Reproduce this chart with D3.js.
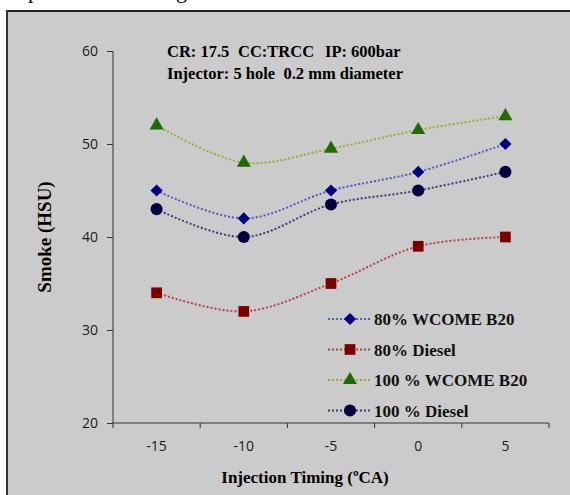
<!DOCTYPE html>
<html><head><meta charset="utf-8">
<script src="https://cdn.jsdelivr.net/npm/d3@7"></script>
<style>body{margin:0;background:#fff}svg{display:block}</style>
</head><body>
<svg id="c" width="570" height="495"></svg>
<script>
const categories = ["-15", "-10", "-5", "0", "5"];
const seriesNames = ["80% WCOME B20", "80% Diesel", "100 % WCOME B20", "100 % Diesel"];
const wcome80 = [45, 42, 45, 47, 50];
const diesel80 = [34, 32, 35, 39, 40];
const wcome100 = [52, 48, 49.5, 51.5, 53];
const diesel100 = [43, 40, 43.5, 45, 47];
const yTicks = [20, 30, 40, 50, 60];
const annotation1 = ["CR: 17.5", "CC:TRCC", "IP: 600bar"];
const annotation2 = "Injector: 5 hole  0.2 mm diameter";
const xTitle = "Injection Timing (ºCA)";
const yTitle = "Smoke (HSU)";

(function () {
const diamond = {draw(ctx, size) { const r = Math.sqrt(size / 2); ctx.moveTo(0, -r); ctx.lineTo(r, 0); ctx.lineTo(0, r); ctx.lineTo(-r, 0); ctx.closePath(); }};
const series = [
  {name: seriesNames[0], values: wcome80, line: "#4a5fc4", fill: "#000080", sym: diamond, size: 75},
  {name: seriesNames[1], values: diesel80, line: "#b84444", fill: "#7a0000", sym: d3.symbolSquare, size: 115},
  {name: seriesNames[2], values: wcome100, line: "#98ae2c", fill: "#1f6a05", sym: d3.symbolTriangle, size: 85},
  {name: seriesNames[3], values: diesel100, line: "#3c3c80", fill: "#000040", sym: d3.symbolCircle, size: 115}
];

const svg = d3.select("#c");
svg.append("text").attr("x", 28).attr("y", -2).attr("font-family", "Liberation Serif").attr("font-size", 22).text("p");
svg.append("text").attr("x", 176).attr("y", -2).attr("font-family", "Liberation Serif").attr("font-size", 22).text("g");

svg.append("rect").attr("x", 7).attr("y", 11).attr("width", 570).attr("height", 490).attr("fill", "#cbcbcb");
svg.append("line").attr("x1", 7).attr("x2", 570).attr("y1", 11).attr("y2", 11).attr("stroke", "#222").attr("stroke-width", 2);
svg.append("line").attr("x1", 7).attr("x2", 7).attr("y1", 10).attr("y2", 495).attr("stroke", "#333").attr("stroke-width", 2);

const pl = 113, pr = 549, pt = 51, pb = 423;
const x = d3.scaleBand().domain(categories).range([pl, pr]);
const y = d3.scaleLinear().domain([20, 60]).range([pb, pt]);
const xc = d => x(d) + x.bandwidth() / 2;

const ya = svg.append("g").attr("transform", `translate(${pl},0)`)
  .call(d3.axisLeft(y).tickValues(yTicks).tickSize(6).tickPadding(9));
ya.select(".domain").attr("stroke", "#333").attr("d", `M0,${pt}V${pb}`);
ya.selectAll(".tick line").attr("stroke", "#333");
ya.selectAll("text").attr("font-family", "Open Sans").attr("font-size", 14).attr("fill", "#1a1a1a");

const xa = svg.append("g").attr("transform", `translate(0,${pb})`)
  .call(d3.axisBottom(x).tickSize(0).tickPadding(18));
xa.select(".domain").attr("stroke", "#333").attr("d", `M${pl},0H${pr}`);
xa.selectAll("text").attr("font-family", "Open Sans").attr("font-size", 14).attr("fill", "#1a1a1a");
const bounds = categories.map(c => x(c)).concat([x(categories[categories.length - 1]) + x.step()]);
xa.selectAll(".bt").data(bounds).join("line").attr("class", "bt")
  .attr("x1", d => d).attr("x2", d => d).attr("y1", 0).attr("y2", 5).attr("stroke", "#333");

svg.append("text").attr("x", 305).attr("y", 483).attr("text-anchor", "middle")
  .attr("font-family", "Liberation Serif").attr("font-weight", "bold").attr("font-size", 17).text(xTitle);
svg.append("text").attr("transform", `translate(51,237) rotate(-90)`).attr("text-anchor", "middle")
  .attr("font-family", "Liberation Serif").attr("font-weight", "bold").attr("font-size", 19).text(yTitle);

const a1 = svg.append("text").attr("y", 57).attr("font-family", "Liberation Serif").attr("font-weight", "bold").attr("font-size", 16.5);
a1.selectAll("tspan").data(annotation1).join("tspan").attr("x", (d, i) => [167, 238, 325][i]).text(d => d);
svg.append("text").attr("x", 167).attr("y", 79).style("white-space", "pre")
  .attr("font-family", "Liberation Serif").attr("font-weight", "bold").attr("font-size", 16.5).text(annotation2);

const line = d3.line().x((d, i) => xc(categories[i])).y(d => y(d)).curve(d3.curveCatmullRom.alpha(0.5));
series.forEach(s => {
  svg.append("path").attr("d", line(s.values)).attr("fill", "none").attr("stroke", s.line)
    .attr("stroke-width", 2).attr("stroke-dasharray", "2,2");
  svg.selectAll(null).data(s.values).join("path")
    .attr("transform", (d, i) => `translate(${xc(categories[i])},${y(d)})`)
    .attr("d", d3.symbol(s.sym, s.size)).attr("fill", s.fill);
});

series.forEach((s, i) => {
  const ly = 319 + i * 30.5;
  const g = svg.append("g").attr("transform", `translate(0,${ly})`);
  g.append("line").attr("x1", 328).attr("x2", 370).attr("stroke", s.line).attr("stroke-width", 2).attr("stroke-dasharray", "2,2");
  g.append("path").attr("transform", "translate(350,0)").attr("d", d3.symbol(s.sym, s.size)).attr("fill", s.fill);
  g.append("text").attr("x", 374).attr("y", 6).attr("font-family", "Liberation Serif").attr("font-weight", "bold")
    .attr("font-size", 17).attr("fill", "#111").text(s.name);
});
})();
</script>
</body></html>
